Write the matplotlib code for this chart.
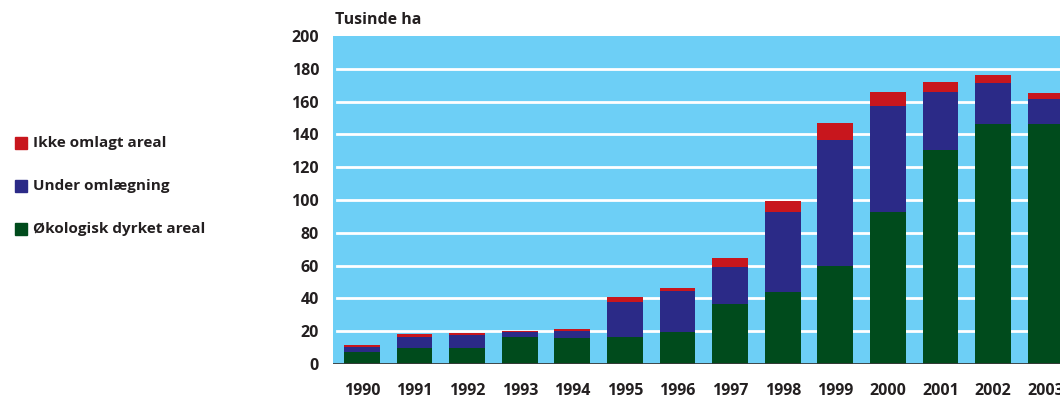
import matplotlib
matplotlib.use("Agg")
import matplotlib.pyplot as plt
from matplotlib.patches import Rectangle

years = ["1990", "1991", "1992", "1993", "1994", "1995", "1996",
         "1997", "1998", "1999", "2000", "2001", "2002", "2003"]
# totals (tusinde ha)
okologisk = [7.5, 10.0, 10.0, 16.2, 15.8, 16.2, 19.7, 36.6, 43.7, 59.8, 92.9, 130.5, 146.5, 146.5]
under_top = [10.4, 16.5, 17.7, 19.5, 20.0, 38.0, 44.5, 59.3, 92.7, 136.6, 157.3, 166.0, 171.5, 161.6]
total_top = [11.6, 18.3, 19.0, 20.3, 21.3, 41.0, 46.5, 64.4, 99.4, 147.0, 165.7, 171.8, 176.2, 165.0]

under = [u - o for u, o in zip(under_top, okologisk)]
ikke = [t - u for t, u in zip(total_top, under_top)]

labels = ["Ikke omlagt areal", "Under omlægning", "Økologisk dyrket areal"]
c_red, c_blue, c_green = "#C8161D", "#2B2A87", "#004B1C"
bg = "#6DCFF6"
txt = "#231F20"

plt.rcParams['font.family'] = ['Open Sans', 'DejaVu Sans']

fig = plt.figure(figsize=(10.60, 4.01), dpi=100)
ax = fig.add_axes([333/1060, 37/401, (1072-333)/1060, 328/401])
ax.set_facecolor(bg)

x = list(range(len(years)))
w = 0.68
ax.bar(x, okologisk, width=w, color=c_green, zorder=3)
ax.bar(x, under, width=w, bottom=okologisk, color=c_blue, zorder=3)
ax.bar(x, ikke, width=w, bottom=under_top, color=c_red, zorder=3)

ax.set_xlim(-0.55, 13.5)
ax.set_ylim(0, 200)
for v in range(20, 200, 20):
    ax.axhline(v, color="white", lw=2, zorder=1, xmin=0.005)
ax.axhline(0, color="#3a3a3a", lw=2, zorder=4)

for s in ax.spines.values():
    s.set_visible(False)
ax.set_yticks(range(0, 201, 20))
ax.set_yticklabels([str(v) for v in range(0, 201, 20)], fontsize=11.5,
                   fontweight="bold", color=txt)
ax.set_xticks(x)
ax.set_xticklabels(years, fontsize=11.5, fontweight="bold", color=txt)
ax.tick_params(axis="y", length=0, pad=10)
ax.tick_params(axis="x", length=0, pad=14)

fig.text(335/1060, 1 - 20/401, "Tusinde ha", fontsize=11.5, fontweight="bold",
         color=txt, ha="left", va="center")

for i, (lab, c) in enumerate(zip(labels, [c_red, c_blue, c_green])):
    yc = 143 + i * 43
    fig.patches.append(Rectangle((15/1060, 1 - (yc + 6)/401), 12/1060, 12/401,
                                 transform=fig.transFigure, color=c, figure=fig))
    fig.text(33/1060, 1 - yc/401, lab, fontsize=11, fontweight="bold",
             color=txt, ha="left", va="center")

fig.savefig("out.png", dpi=100)
